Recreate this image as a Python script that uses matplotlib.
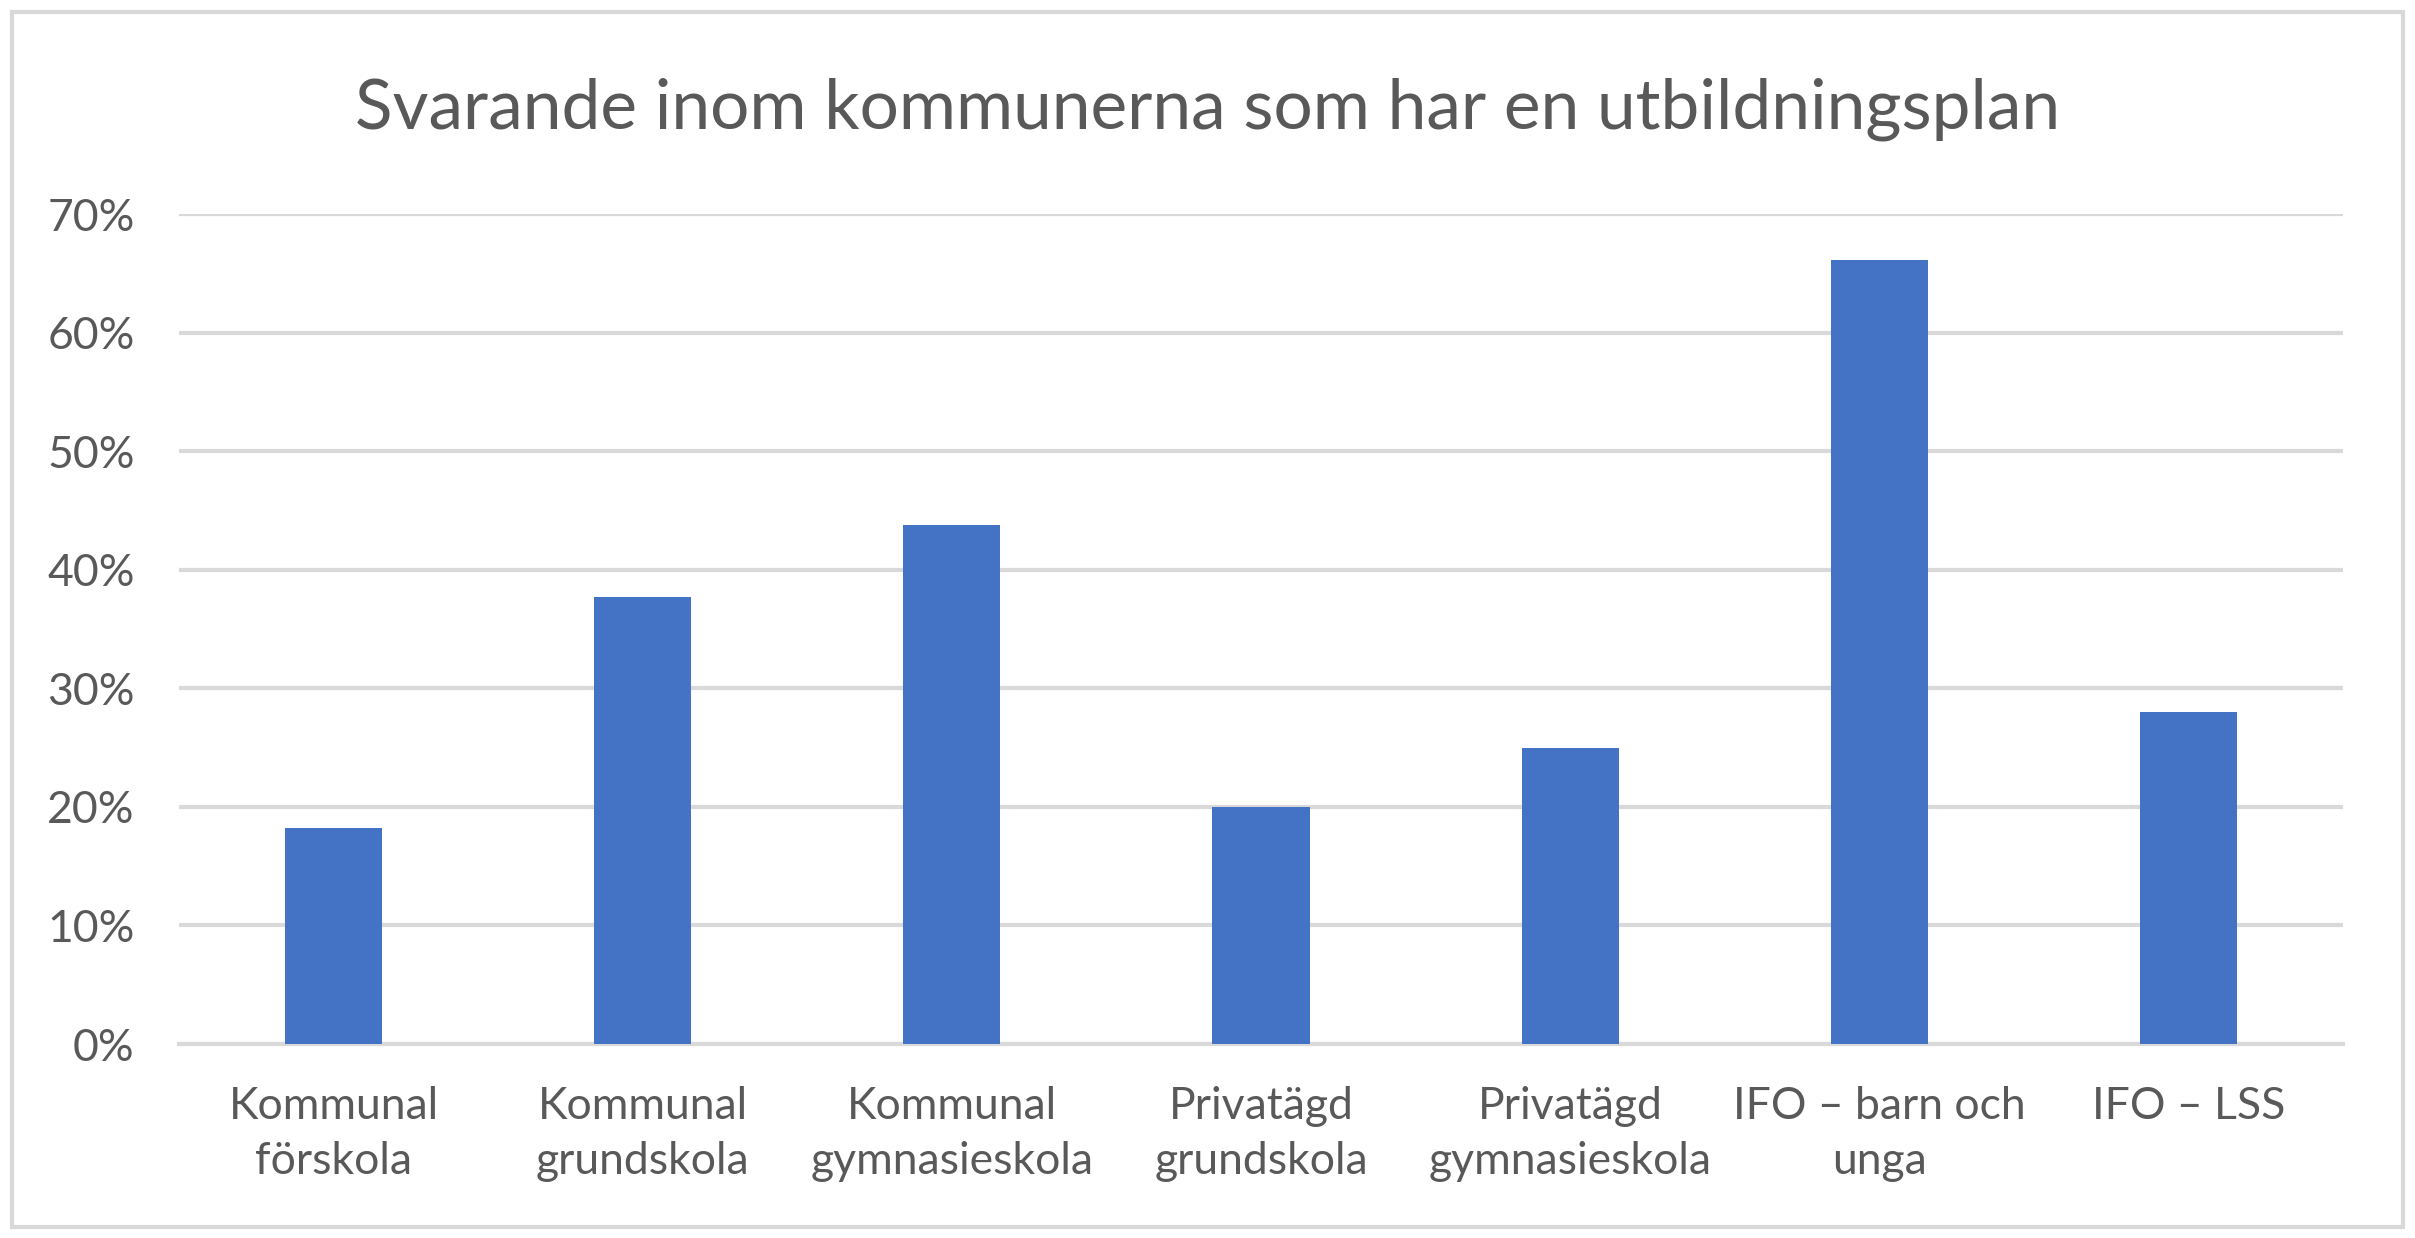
import matplotlib
matplotlib.use('Agg')
import matplotlib.pyplot as plt
from matplotlib.ticker import PercentFormatter
import numpy as np

# Data
categories = ['Kommunal\nförskola', 'Kommunal\ngrundskola', 'Kommunal\ngymnasieskola',
              'Privatägd\ngrundskola', 'Privatägd\ngymnasieskola', 'IFO – barn och\nunga', 'IFO – LSS']
values = [18.2, 37.7, 43.8, 20.0, 25.0, 66.1, 28.0]
yticks = [0, 10, 20, 30, 40, 50, 60, 70]
title = 'Svarande inom kommunerna som har en utbildningsplan'

plt.rcParams['font.family'] = ['Lato', 'DejaVu Sans']
text_color = '#595959'
grid_color = '#D9D9D9'
bar_color = '#4472C4'

fig = plt.figure(figsize=(24.15, 12.38), dpi=100)
ax = fig.add_axes([0.0741, 0.1567, 0.8961, 0.6704])

x = np.arange(len(categories))
ax.bar(x, values, width=0.314, color=bar_color, zorder=3)

ax.set_xlim(-0.5, len(categories) - 0.5)
ax.set_ylim(0, 70)
ax.set_yticks(yticks)
ax.yaxis.set_major_formatter(PercentFormatter(decimals=0))
ax.set_xticks(x)
ax.set_xticklabels(categories, linespacing=1.42)

ax.grid(axis='y', color=grid_color, linewidth=3, zorder=0)
for side in ['top', 'right', 'left']:
    ax.spines[side].set_visible(False)
ax.spines['bottom'].set_color(grid_color)
ax.spines['bottom'].set_linewidth(3)
ax.tick_params(axis='both', length=0, labelsize=32, colors=text_color)
ax.tick_params(axis='y', pad=32)
ax.tick_params(axis='x', pad=30)

fig.text(0.5, 0.912, title, ha='center', va='center', fontsize=50, color=text_color)

# outer chart border
border = plt.Rectangle((0.005, 0.009), 0.99, 0.981, transform=fig.transFigure,
                       fill=False, edgecolor=grid_color, linewidth=3)
fig.patches.append(border)

plt.savefig('out.png', dpi=100)
